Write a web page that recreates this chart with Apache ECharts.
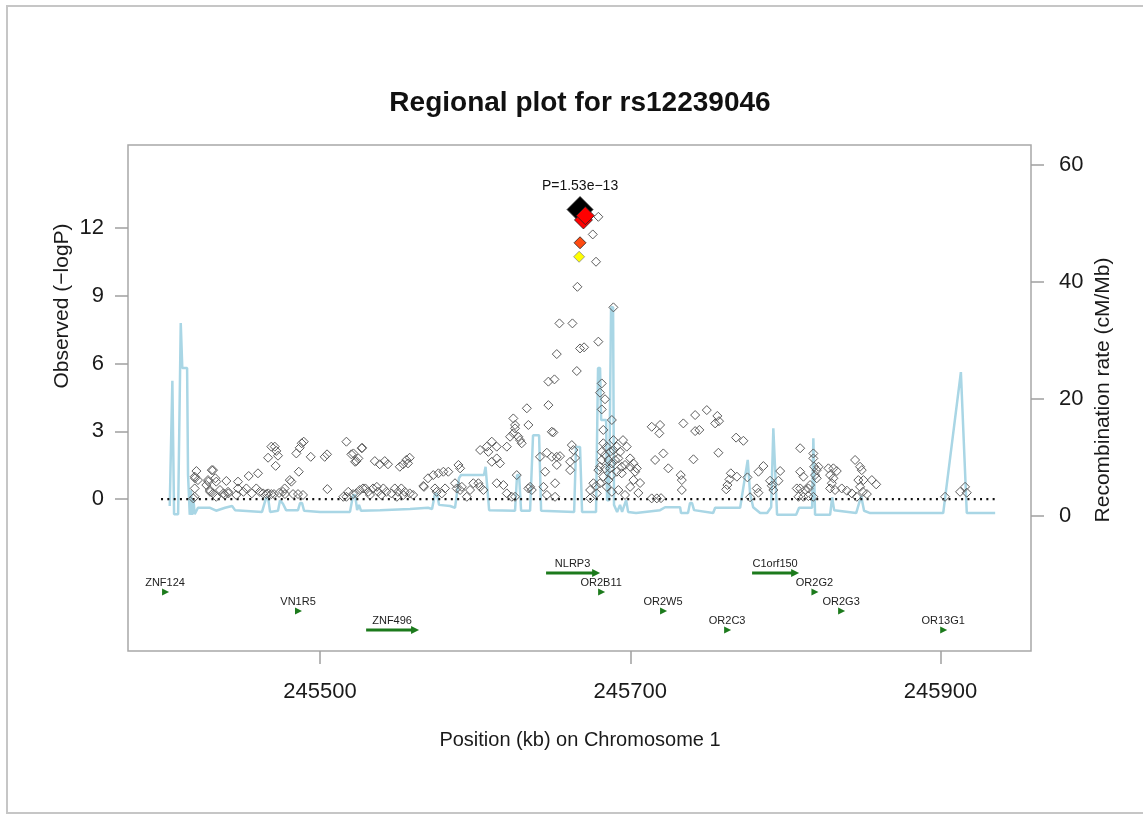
<!DOCTYPE html>
<html><head><meta charset="utf-8">
<script src="https://cdn.jsdelivr.net/npm/echarts@6/dist/echarts.min.js"></script>
<style>html,body{margin:0;padding:0;background:#fff}#c{width:1143px;height:816px}</style>
</head><body><div id="c"></div>
<script>
const chartTitle = 'Regional plot for rs12239046';
const xTitle = 'Position (kb) on Chromosome 1';
const leftTitle = 'Observed (\u2212logP)';
const rightTitle = 'Recombination rate (cM/Mb)';
const leadLabel = 'P=1.53e\u221213';

const xTicks = [245500, 245700, 245900];
const leftTicks = [0, 3, 6, 9, 12];
const rightTicks = [0, 20, 40, 60];

const snpPos = [
245420.3,245419.2,245421.3,245419.2,245419.2,245426.7,245428.9,245427.8,245431.0,245432.5,
245433.1,245431.0,245433.1,245439.6,245440.7,245438.6,245447.1,245447.1,245446.0,245452.5,
245454.0,245460.0,245458.9,245461.1,245463.3,245466.5,245468.6,245470.8,245471.8,245472.9,
245471.4,245465.4,245468.6,245476.1,245477.2,245480.5,245481.5,245486.3,245484.7,245486.9,
245489.5,245488.2,245482.6,245485.8,245489.0,245494.0,245503.0,245504.5,245504.7,245517.0,
245517.0,245520.2,245523.4,245524.7,245527.1,245521.5,245526.9,245522.6,245521.3,245523.4,
245525.6,245527.7,245529.2,245535.3,245538.5,245541.7,245543.8,245534.2,245537.4,245539.5,
245542.7,245546.0,245548.2,245551.4,245553.5,245555.6,245557.8,245556.7,245550.3,245552.4,
245554.6,245557.8,245560.0,245567.0,245569.6,245573.0,245576.3,245579.5,245582.7,245574.1,
245575.2,245566.6,245589.2,245590.3,245587.0,245588.1,245590.3,245591.4,245602.1,245603.2,
245605.3,245603.2,245607.5,245610.7,245613.9,245608.5,245610.7,245613.9,245616.0,245613.9,
245618.2,245620.4,245622.5,245624.6,245625.7,245627.8,245628.9,245630.0,245624.6,245625.7,
245633.3,245634.3,245626.8,245625.7,245634.3,245636.5,245635.4,245641.8,245646.2,245649.4,
245652.6,245654.7,245652.6,245645.1,245646.2,245651.5,245651.5,245644.0,245649.4,245647.2,
245661.2,245662.3,245661.2,245663.3,245664.4,245674.1,245676.2,245674.1,245677.9,245679.4,
245675.8,245677.9,245665.9,245689.1,245654.3,245662.7,245667.6,245670.2,245679.4,245652.6,
245665.5,245647.2,245651.1,245681.6,245680.5,245683.7,245681.6,245688.1,245650.4,245682.6,
245684.8,245681.6,245683.7,245687.0,245689.1,245691.3,245693.4,245692.3,245690.2,245688.1,
245685.9,245681.6,245680.5,245683.7,245687.0,245694.5,245696.6,245699.9,245699.9,245702.0,
245704.2,245703.1,245691.3,245694.5,245682.6,245685.9,245688.1,245680.5,245684.8,245688.1,
245692.3,245696.6,245702.0,245699.9,245695.3,245697.7,245689.1,245682.6,245679.4,245678.4,
245706.3,245705.2,245713.8,245717.1,245719.8,245713.8,245719.2,245718.7,245734.2,245741.8,
245749.3,245756.1,245754.7,245757.2,245741.8,245744.5,245768.2,245772.9,245721.3,245716.0,
245740.7,245756.8,245724.5,245732.5,245733.2,245733.2,245764.8,245763.9,245762.6,245761.8,
245768.7,245775.5,245777.2,245782.6,245785.8,245781.5,245782.6,245790.1,245791.2,245792.2,
245795.5,245796.6,245809.5,245818.0,245818.0,245818.5,245820.2,245819.1,245820.2,245821.3,
245809.5,245811.6,245807.3,245809.5,245812.7,245814.8,245808.4,245811.6,245814.8,245818.0,
245815.9,245827.7,245830.9,245833.1,245828.8,245830.9,245829.9,245828.8,245832.0,245836.3,
245839.6,245842.8,245846.0,245844.9,245848.1,245849.2,245847.0,245850.3,245848.1,245849.9,
245852.5,245855.7,245858.5,245902.9,245912.6,245915.8,245916.9,245419.4,245430.2,245428.0,
245429.1,245435.5,245437.7,245440.9,245450.6,245456.0,245466.6,245470.3,245473.6,245477.4,
245418.3,245515.0,245518.2,245531.1,245532.2,245536.6,245540.8,245549.5,245553.7,245578.5,
245580.6,245596.7,245598.8,245594.6,245620.4,245623.6
];
const snpLogP = [
1.24,0.99,0.84,0.47,0.10,0.62,0.40,0.84,1.28,0.92,
0.77,0.25,0.10,0.80,0.32,0.18,0.77,0.47,0.18,0.47,
1.02,1.14,0.47,0.32,0.25,1.83,2.32,2.32,2.13,1.92,
1.47,0.22,0.22,0.32,0.47,0.84,0.77,1.21,2.02,2.27,
2.54,2.47,0.22,0.22,0.18,1.87,1.87,1.98,0.44,2.54,
0.10,1.98,1.68,1.80,2.27,2.02,2.25,1.65,0.22,0.25,
0.40,0.47,0.47,1.68,1.54,1.68,1.54,0.47,0.32,0.18,
0.32,0.25,0.47,1.43,1.54,1.73,1.83,1.58,0.32,0.47,
0.32,0.25,0.18,0.54,0.92,1.06,1.14,1.21,1.21,0.47,
0.32,0.58,1.51,1.36,0.70,0.47,0.40,0.54,0.70,0.54,
0.40,2.17,2.32,2.54,2.32,2.09,1.65,1.80,1.58,0.70,
0.62,2.32,2.76,2.91,3.13,2.76,2.61,2.47,3.57,3.28,
4.02,3.28,1.06,0.10,0.47,0.40,0.54,1.87,2.05,1.87,
1.87,1.90,1.51,1.21,0.18,0.70,0.10,0.54,2.98,4.16,
1.65,2.39,1.28,2.17,1.82,0.40,0.70,0.03,0.58,12.50,
11.72,10.51,9.40,8.49,7.78,7.78,6.67,6.72,6.97,6.42,
5.67,5.20,5.30,5.12,4.71,4.42,3.97,3.50,2.95,2.47,
2.32,2.09,1.95,2.09,2.17,2.32,2.09,1.80,1.73,1.58,
1.73,1.73,1.43,1.36,1.36,1.43,1.51,1.43,1.80,1.58,
1.36,1.21,1.21,1.14,0.99,0.84,1.06,0.70,0.54,0.32,
0.40,0.18,0.84,0.54,2.61,2.32,2.61,3.06,1.28,0.25,
0.71,0.27,0.03,0.03,0.04,3.20,3.28,2.91,3.35,3.72,
3.94,3.68,3.35,3.45,3.01,3.06,2.72,2.58,2.02,1.73,
1.76,2.05,1.36,1.06,0.84,0.40,1.14,0.87,0.62,0.43,
0.99,0.96,0.08,1.21,1.46,0.47,0.28,0.81,0.59,0.40,
0.81,1.24,2.25,2.02,1.80,1.43,1.28,1.06,0.92,1.43,
1.21,0.99,0.47,0.47,0.40,0.47,0.10,0.10,0.13,0.10,
0.62,1.36,1.36,1.24,1.06,0.92,0.70,0.47,0.40,0.47,
0.37,0.25,0.10,1.73,1.43,1.28,0.84,0.84,0.54,0.32,
0.22,0.84,0.65,0.10,0.32,0.54,0.28,0.92,1.28,0.77,
0.32,0.40,0.25,0.25,0.32,0.25,0.25,0.22,0.27,0.22,
0.03,0.10,0.32,0.32,0.18,0.54,0.47,0.10,0.18,0.25,
0.47,0.40,0.70,0.10,0.25,0.10
];

// LD-coloured SNPs (drawn in this order)
const ldPos  = [245667.0, 245667.6, 245667.6, 245669.8, 245671.0];
const ldLogP = [10.73, 11.35, 12.82, 12.36, 12.55];
const ldClass = ['low', 'mid', 'lead', 'high', 'high'];

const recombPos = [
245403.1,245404.8,245405.9,245408.5,245410.2,245411.2,245414.3,245414.9,245416.0,245416.8,
245417.5,245418.4,245419.2,245421.3,245429.1,245433.0,245438.8,245443.3,245445.2,245462.6,
245465.2,245466.5,245467.8,245472.9,245474.2,245476.1,245478.1,245485.8,245487.1,245488.4,
245489.7,245500.0,245519.3,245521.3,245522.6,245523.9,245525.1,245526.4,245538.7,245558.0,
245569.6,245572.2,245574.1,245575.4,245576.7,245583.8,245587.0,245589.6,245590.9,245605.7,
245606.7,245607.7,245609.0,245625.7,245627.0,245628.3,245629.6,245635.4,245637.3,245641.2,
245642.5,245663.8,245665.0,245667.6,245668.9,245677.9,245679.2,245680.5,245681.2,245684.4,
245685.0,245686.3,245687.6,245688.9,245689.5,245691.5,245693.4,245694.7,245697.3,245698.6,
245703.7,245719.2,245722.4,245732.1,245732.7,245737.2,245738.5,245739.8,245741.1,245753.4,
245754.7,245770.8,245775.7,245777.2,245779.2,245783.7,245788.2,245790.8,245792.2,245794.6,
245806.9,245808.8,245817.2,245818.0,245819.1,245828.8,245830.1,245831.4,245845.6,245848.8,
245850.7,245854.6,245901.7,245913.1,245916.9,245935.2
];
const recombRate = [
1.7,23.1,0.3,0.3,33.0,25.3,25.3,7.0,0.2,4.4,
0.2,2.7,0.3,1.4,1.4,0.9,1.4,1.7,1.0,0.7,
3.1,3.1,0.7,0.9,2.7,2.1,1.0,1.0,2.2,2.2,
0.9,0.7,0.7,3.6,3.6,1.0,1.9,0.9,1.0,1.2,
1.4,1.2,3.8,3.8,1.9,1.7,1.4,6.5,7.0,7.0,
8.4,8.4,1.0,0.9,7.0,7.0,0.9,0.9,13.8,13.8,
0.9,0.7,11.8,11.8,0.7,0.7,25.3,25.3,16.4,16.4,
2.7,2.7,35.7,35.7,1.9,0.7,1.9,0.7,2.7,0.7,
0.5,1.0,1.5,1.5,0.5,0.5,2.2,2.2,1.0,0.5,
1.4,1.4,9.6,3.9,1.5,0.5,0.5,1.5,15.0,0.2,
0.2,1.4,1.4,13.3,0.2,0.2,3.2,1.0,0.5,3.4,
0.9,0.5,0.5,24.6,0.5,0.5
];

const refLineX = [245397.5, 245935.2];
const refLineY = [0, 0];

const geneNames = ['ZNF124','VN1R5','ZNF496','NLRP3','OR2B11','OR2W5','OR2C3','C1orf150','OR2G2','OR2G3','OR13G1'];
const geneStart = [245400.1,245485.8,245529.7,245645.7,245681.2,245721.1,245762.4,245778.5,245818.7,245835.9,245901.7];
const geneEnd   = [245400.1,245485.8,245563.2,245679.9,245681.2,245721.1,245762.4,245808.2,245818.7,245835.9,245901.7];
const geneRow   = [2,3,4,1,2,3,4,1,2,3,4];

const F = "'Liberation Sans', Arial, Helvetica, sans-serif";
const ldColor = {lead:'#000000', high:'#ff0000', mid:'#ff4b12', low:'#ffff00'};
const ldSize = {lead:26, high:18, mid:12, low:11};
const geneGreen = '#1c7a1c';
function rowValue(r){ return -3.28 - (r - 1) * 0.84; }

const chart = echarts.init(document.getElementById('c'), null, {renderer:'canvas'});
chart.setOption({
  animation:false,
  backgroundColor:'#ffffff',
  grid:{left:128, right:112, top:145, bottom:165, show:true, borderColor:'#a8a8a8', borderWidth:1.5, backgroundColor:'transparent'},
  xAxis:{
    type:'value', min:245376.2, max:245958.3,
    axisLine:{show:false, onZero:false},
    splitLine:{show:false},
    axisTick:{show:true, length:13, customValues:xTicks, lineStyle:{color:'#a0a0a0', width:1.5}},
    axisLabel:{customValues:xTicks, formatter:function(v){return String(v);}, fontSize:22, color:'#1a1a1a', fontFamily:F, margin:30}
  },
  yAxis:[
    {type:'value', min:-6.73, max:15.68, position:'left',
     axisLine:{show:false, onZero:false}, splitLine:{show:false},
     axisTick:{show:true, length:13, customValues:leftTicks, lineStyle:{color:'#a0a0a0', width:1.5}},
     axisLabel:{customValues:leftTicks, formatter:function(v){return String(v);}, fontSize:22, color:'#1a1a1a', fontFamily:F, margin:24}},
    {type:'value', min:-23.08, max:63.42, position:'right',
     axisLine:{show:false, onZero:false}, splitLine:{show:false},
     axisTick:{show:true, length:13, customValues:rightTicks, lineStyle:{color:'#a0a0a0', width:1.5}},
     axisLabel:{customValues:rightTicks, formatter:function(v){return String(v);}, fontSize:22, color:'#1a1a1a', fontFamily:F, margin:28}}
  ],
  graphic:[
    {type:'rect', silent:true, z:-10, shape:{x:7, y:6, width:1160, height:807}, style:{fill:'none', stroke:'#c6c6c6', lineWidth:2}},
    {type:'text', x:580, y:103, silent:true, style:{text:chartTitle, font:'bold 28px '+F, fill:'#111', align:'center', verticalAlign:'middle'}},
    {type:'text', x:580, y:740, silent:true, style:{text:xTitle, font:'20px '+F, fill:'#1a1a1a', align:'center', verticalAlign:'middle'}},
    {type:'text', x:62, y:306, rotation:Math.PI/2, silent:true, style:{text:leftTitle, font:'21px '+F, fill:'#1a1a1a', align:'center', verticalAlign:'middle'}},
    {type:'text', x:1103, y:390, rotation:Math.PI/2, silent:true, style:{text:rightTitle, font:'21px '+F, fill:'#1a1a1a', align:'center', verticalAlign:'middle'}}
  ],
  series:[
    {type:'line', yAxisIndex:1, z:1, symbol:'none', silent:true,
     lineStyle:{color:'#a9d6e5', width:2.5},
     data:recombPos.map((p,i)=>[p, recombRate[i]])},
    {type:'line', yAxisIndex:0, z:2, symbol:'none', silent:true,
     lineStyle:{color:'#111', width:2.2, type:[2,4.3]},
     data:refLineX.map((p,i)=>[p, refLineY[i]])},
    {type:'scatter', yAxisIndex:0, z:3, symbol:'diamond', symbolSize:9, silent:true,
     itemStyle:{color:'rgba(255,255,255,0)', borderColor:'#5c5c5c', borderWidth:1, opacity:1},
     data:snpPos.map((p,i)=>[p, snpLogP[i]])},
    {type:'scatter', yAxisIndex:0, z:4, symbol:'diamond', silent:true,
     data:ldPos.map((p,i)=>({
       value:[p, ldLogP[i]],
       symbolSize:ldSize[ldClass[i]],
       itemStyle:{color:ldColor[ldClass[i]], opacity:1, borderColor: ldClass[i]==='low' ? '#888' : '#222', borderWidth:0.8},
       label: ldClass[i]==='lead' ? {show:true, position:'top', distance:3, formatter:leadLabel, fontSize:14, color:'#111', fontFamily:F} : {show:false}
     }))},
    {type:'custom', xAxisIndex:0, yAxisIndex:0, z:5, clip:false, silent:true,
     encode:{x:[0,1], y:2},
     data:geneNames.map((n,i)=>[geneStart[i], geneEnd[i], geneRow[i]]),
     renderItem:function(params, api){
       const i = params.dataIndex;
       const yv = rowValue(api.value(2));
       const s = api.coord([api.value(0), yv]);
       const e = api.coord([api.value(1), yv]);
       const y = s[1];
       const children = [];
       if (e[0] - s[0] > 8) {
         children.push({type:'line', shape:{x1:s[0], y1:y, x2:e[0]-5, y2:y}, style:{stroke:geneGreen, lineWidth:3}});
         children.push({type:'polygon', shape:{points:[[e[0]-7,y-4],[e[0]+1,y],[e[0]-7,y+4]]}, style:{fill:geneGreen}});
       } else {
         children.push({type:'polygon', shape:{points:[[s[0]-3,y-3.5],[s[0]+4,y],[s[0]-3,y+3.5]]}, style:{fill:geneGreen}});
       }
       children.push({type:'text', style:{text:geneNames[i], x:(s[0]+e[0])/2, y:y-9, align:'center', verticalAlign:'middle', font:'11px '+F, fill:'#222'}});
       return {type:'group', children:children};
     }}
  ]
});
</script>
</body></html>
